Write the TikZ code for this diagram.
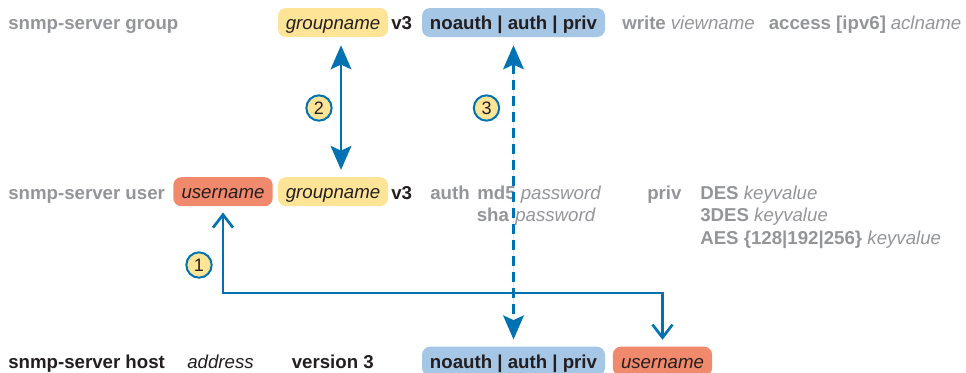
\documentclass[tikz,border=0pt]{standalone}
\usepackage{fontspec}
\setmainfont{Liberation Sans}
\usetikzlibrary{arrows.meta}
\definecolor{txtgray}{RGB}{147,149,152}
\definecolor{txtdark}{RGB}{35,31,32}
\definecolor{lineblue}{RGB}{0,114,178}
\definecolor{boxyellow}{RGB}{254,228,151}
\definecolor{boxblue}{RGB}{166,198,229}
\definecolor{boxred}{RGB}{241,137,109}
\tikzset{
  fnt/.style={font=\fontsize{14}{16}\selectfont},
  lbl/.style={fnt, anchor=base west, inner sep=0pt},
  gb/.style={lbl, text=txtgray, font=\fontsize{14}{16}\selectfont\bfseries},
  gi/.style={lbl, text=txtgray, font=\fontsize{14}{16}\selectfont\itshape},
  db/.style={lbl, text=txtdark, font=\fontsize{14}{16}\selectfont\bfseries},
  di/.style={lbl, text=txtdark, font=\fontsize{14}{16}\selectfont\itshape},
  box/.style={rounded corners=6pt, inner sep=0pt, minimum height=21.75pt,
    text height=13.4pt, text depth=2.5pt, text=txtdark},
  ybox/.style={box, fill=boxyellow, minimum width=82.5pt, font=\fontsize{14}{16}\selectfont\itshape},
  rbox/.style={box, fill=boxred, minimum width=74.5pt, font=\fontsize{14}{16}\selectfont\itshape},
  bbox/.style={box, fill=boxblue, minimum width=137.25pt, font=\fontsize{14}{16}\selectfont\bfseries},
  num/.style={circle, draw=lineblue, line width=1.5pt, fill=boxyellow, minimum size=19pt,
    inner sep=0pt, text=txtdark, font=\fontsize{13.5}{15}\selectfont},
  solidarr/.style={draw=lineblue, line width=2pt,
    {Stealth[length=18pt,width=15.5pt,inset=3.5pt]}-{Stealth[length=18pt,width=15.5pt,inset=3.5pt]},
    fill=lineblue, shorten <=6pt, shorten >=5.25pt},
  dasharr/.style={solidarr, dash pattern=on 7.5pt off 4.5pt},
  openarr/.style={draw=lineblue, line width=2pt,
    {Straight Barb[length=9.75pt,width=15pt]}-{Straight Barb[length=9.75pt,width=15pt]},
    shorten <=5pt, shorten >=4.5pt},
}
\begin{document}
\begin{tikzpicture}[x=0.75pt,y=-0.75pt]
\clip (0,0) rectangle (966,372);
\useasboundingbox (0,0) rectangle (966,372);
% row 1
\node[gb] (grpcmd) at (8,29.5) {snmp-server group};
\node[ybox] (g1) at (333,22.5) {groupname};
\node[db] (v3a) at (391,29.5) {v3};
\node[bbox] (b1) at (513.5,22.5) {noauth | auth | priv};
\node[gb] (write) at (622,29.5) {write};
\node[gi] (view) at (670.5,29.5) {viewname};
\node[gb] (access) at (768.5,29.5) {access [ipv6]};
\node[gi] (acl) at (890.5,29.5) {aclname};
% row 2
\node[gb] (usrcmd) at (8,199) {snmp-server user};
\node[rbox] (u2) at (223,191.7) {username};
\node[ybox] (g2) at (333,191.7) {groupname};
\node[db] (v3b) at (391,199) {v3};
\node[gb] (auth) at (430,199) {auth};
\node[gb] (md5) at (477,199) {md5};
\node[gi] (pw1) at (520.5,199) {password};
\node[gb] (sha) at (476.5,221.5) {sha};
\node[gi] (pw2) at (515,221.5) {password};
\node[gb] (priv) at (647,199) {priv};
\node[lbl, text=txtgray] (des) at (700,199) {\textbf{DES} \textit{keyvalue}};
\node[lbl, text=txtgray] (tdes) at (700,221.5) {\textbf{3DES} \textit{keyvalue}};
\node[lbl, text=txtgray] (aes) at (700,244) {\textbf{AES \{128|192|256\}} \textit{keyvalue}};
% row 3
\node[db] (hostcmd) at (8,368) {snmp-server host};
\node[di] (addr) at (187,368) {address};
\node[db] (ver) at (291.5,368) {version 3};
\node[bbox] (b3) at (513.5,361.2) {noauth | auth | priv};
\node[rbox] (u3) at (662.5,361.2) {username};
% connectors
\coordinate (turn) at (0,293);
\draw[openarr] (u3.north) -- (u3.north |- turn) -| (u2.south);
\draw[solidarr] ([xshift=6pt]g1.south) -- ([xshift=6pt]g2.north);
\draw[dasharr] (b1.south) -- (b3.north);
% step numbers
\node[num] (n1) at (199,265) {1};
\node[num] (n2) at (319,108) {2};
\node[num] (n3) at (486.5,108) {3};
\end{tikzpicture}
\end{document}
